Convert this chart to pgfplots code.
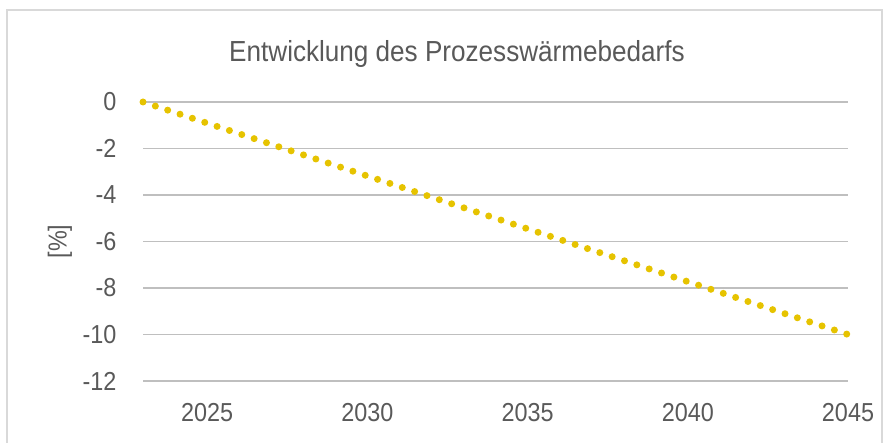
\documentclass[border=0pt]{standalone}
\usepackage{fontspec}
\setmainfont{Liberation Sans}[FakeStretch=0.9]
\usepackage{pgfplots}
\pgfplotsset{compat=1.18}
\definecolor{txt}{HTML}{595959}
\definecolor{grid}{HTML}{D9D9D9}
\definecolor{frame}{HTML}{D9D9D9}
\definecolor{gold}{HTML}{E6C300}
\begin{document}
\begin{tikzpicture}[x=1bp,y=1bp]
\useasboundingbox (0,0) rectangle (889,443);
\draw[frame, line width=1.5bp] (7,-5) rectangle (882,433);
\node[txt, font=\fontsize{29bp}{33bp}\selectfont] at (457,389) {Entwicklung des Prozesswärmebedarfs};
\begin{axis}[
  at={(143bp,62bp)}, anchor=south west,
  scale only axis, width=705bp, height=279bp,
  xmin=2023, xmax=2045, ymin=-12, ymax=0,
  xtick={2025,2030,2035,2040,2045},
  ytick={-12,-10,...,0},
  axis line style={draw=none},
  tick style={draw=none},
  major tick length=0pt,
  xmajorgrids=false,
  ymajorgrids=true, grid style={grid, line width=1.1bp},
  tick label style={txt, font=\fontsize{26bp}{30bp}\selectfont},
  xticklabel style={yshift=-19bp},
  yticklabel style={xshift=-23bp},
  /pgf/number format/assume math mode=true,
  /pgf/number format/1000 sep={},
  ylabel={[\%]},
  ylabel style={txt, font=\fontsize{26bp}{30bp}\selectfont, at={(-83bp,0.5)}, anchor=center},
  clip=false,
]
\addplot[gold, line width=7bp, line cap=round, dash pattern=on 0bp off 13.0bp] coordinates {
(2023,0) (2024,-0.4545) (2025,-0.9091) (2026,-1.3636) (2027,-1.8182) (2028,-2.2727)
(2029,-2.7273) (2030,-3.1818) (2031,-3.6364) (2032,-4.0909) (2033,-4.5455) (2034,-5.0)
(2035,-5.4545) (2036,-5.9091) (2037,-6.3636) (2038,-6.8182) (2039,-7.2727) (2040,-7.7273)
(2041,-8.1818) (2042,-8.6364) (2043,-9.0909) (2044,-9.5455) (2045,-10.0)};
\end{axis}
\end{tikzpicture}
\end{document}
